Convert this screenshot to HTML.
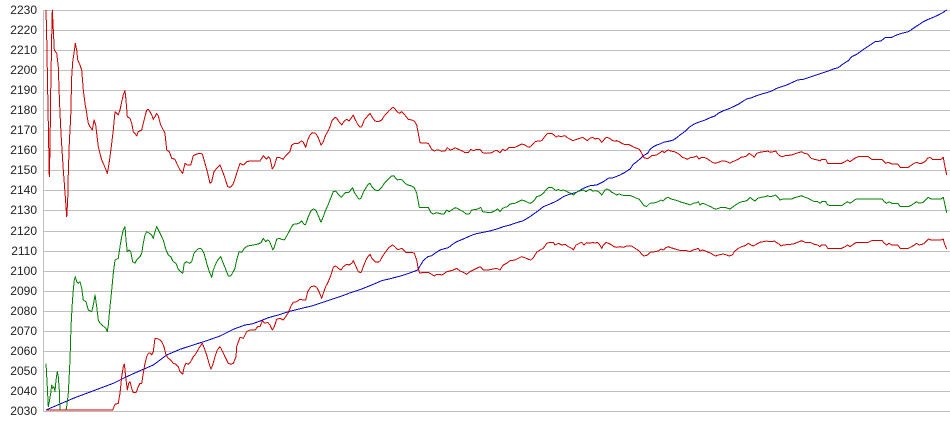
<!DOCTYPE html>
<html><head><meta charset="utf-8"><style>
html,body{margin:0;padding:0;background:#fff;}
svg{display:block;}
text{font-family:"Liberation Sans",Arial,sans-serif;font-size:12px;fill:#222;}
</style></head><body>
<svg width="950" height="435" viewBox="0 0 950 435" xmlns="http://www.w3.org/2000/svg">
<rect width="950" height="435" fill="#fff"/>
<g fill="#c0c0c0" shape-rendering="crispEdges">
<rect x="43" y="10" width="907" height="1"/>
<rect x="43" y="30" width="907" height="1"/>
<rect x="43" y="50" width="907" height="1"/>
<rect x="43" y="70" width="907" height="1"/>
<rect x="43" y="90" width="907" height="1"/>
<rect x="43" y="110" width="907" height="1"/>
<rect x="43" y="130" width="907" height="1"/>
<rect x="43" y="150" width="907" height="1"/>
<rect x="43" y="170" width="907" height="1"/>
<rect x="43" y="190" width="907" height="1"/>
<rect x="43" y="210" width="907" height="1"/>
<rect x="43" y="231" width="907" height="1"/>
<rect x="43" y="251" width="907" height="1"/>
<rect x="43" y="271" width="907" height="1"/>
<rect x="43" y="291" width="907" height="1"/>
<rect x="43" y="311" width="907" height="1"/>
<rect x="43" y="331" width="907" height="1"/>
<rect x="43" y="351" width="907" height="1"/>
<rect x="43" y="371" width="907" height="1"/>
<rect x="43" y="391" width="907" height="1"/>
<rect x="43" y="411" width="907" height="1"/>
<rect x="43" y="10" width="1" height="402"/>
</g>
<g text-anchor="end">
<text x="37" y="14">2230</text>
<text x="37" y="34">2220</text>
<text x="37" y="54">2210</text>
<text x="37" y="74">2200</text>
<text x="37" y="94">2190</text>
<text x="37" y="114">2180</text>
<text x="37" y="134">2170</text>
<text x="37" y="154">2160</text>
<text x="37" y="174">2150</text>
<text x="37" y="194">2140</text>
<text x="37" y="214">2130</text>
<text x="37" y="235">2120</text>
<text x="37" y="255">2110</text>
<text x="37" y="275">2100</text>
<text x="37" y="295">2090</text>
<text x="37" y="315">2080</text>
<text x="37" y="335">2070</text>
<text x="37" y="355">2060</text>
<text x="37" y="375">2050</text>
<text x="37" y="395">2040</text>
<text x="37" y="415">2030</text>
</g>
<g fill="none" stroke-width="1" stroke-linejoin="round" shape-rendering="crispEdges">
<!-- blue -->
<polyline stroke="#0000cc" points="46,410 60,404 73.3,398.3 86.7,393.3 100,388.3 113.3,383.3 126.7,376.7 140,370.7 153.3,365 166.7,355 180,349.3 193.3,345 206.7,340.7 220,336 233.3,329.3 245,325 251.7,324 258.3,321.7 268.3,317.7 278.3,315 288.3,311.7 301.7,308.3 311.7,306 321.7,302.7 331.7,299.3 341.7,296 351.7,292.3 361.7,289 371.7,285 381.7,280.7 391.7,278.3 401.7,275.7 411.7,272.3 417.7,270 420,266 423.3,260.7 427.7,256.7 431.7,255.7 435,253.3 440,250 443.3,249 448.3,247.7 451.7,245 456.7,241.7 463.3,239 470,236 475,234 483.3,232.3 490,231 496.7,229 503.3,226.7 510,225 516.7,222.7 523.3,220.7 528.3,217.7 533.3,214.3 538.3,210.7 543.3,206.7 550,204 556.7,201 563.3,196.7 570,194 576.7,192.3 583.3,188.3 590,185.7 596.7,185 603.3,181.7 608.3,178.3 613.3,177.7 620,175 625,172.3 630,169 633.3,164.3 636.7,161.7 640,159 643.3,155.7 647.7,153.3 650,149.3 653.3,146.7 656.7,145 660,144 663.3,142.3 666.7,141.7 670,141 673.3,140 676.7,137.7 680,135 683.3,132.7 686.7,130 690,126.7 694.3,124 698.3,122.3 703.3,120.7 706.7,119.3 710,117.7 715,116 718.3,113.3 723.3,110.7 728.3,109 733.3,106.7 738.3,104.3 743.3,101 746.7,99 751.7,97.7 756.7,95.7 761.7,94 766.7,92.7 771.7,91 776.7,88.3 781.7,86.7 786.7,85 791.7,82.7 797.7,80 803.3,79.3 808.3,77.7 813.3,76 818.3,74.3 823.3,72.7 828.3,71 833.3,69 838.3,67.7 841.7,65 845,62.7 848.3,60.7 851.7,56.7 856.7,54.3 861.7,50.7 866.7,47.3 871.7,44 875,41.7 881,41 885,37.7 891.7,37.3 896.7,35 901.7,33.3 908.3,31.7 913.3,28.3 918.3,25 923.3,21.7 928.3,19.3 933.3,17.3 938.3,15 943.3,12.3 946.7,10"/>
<!-- green -->
<polyline stroke="#008000" points="46,363.3 47.3,386.7 48.3,406.7 49.3,401.7 50.7,393.3 51.7,385 52.7,388.3 54,386.7 55,391.7 56,380 57.3,371.7 58.3,376.7 59.3,390 60,410 66,410 66.7,406.7 68.3,393.3 70,360 71,326.7 72.3,303.3 73.3,290 74.3,280 75.3,276.7 76.7,281.7 78.3,283.3 80,281.7 81.7,288.3 83.3,300 86,301.7 88.3,310 91.7,311.7 93.3,305 95,295 96.7,306.7 98.3,320 100,323.3 104,326.7 106,328.3 107.3,331.7 108.3,325 110,306.7 111.7,290 113.3,273.3 115,260 118.3,258.3 120,246.7 121.7,236.7 123.3,230 125,226.7 126,240 127.3,251.7 129,250 130.7,251.7 132.7,261.7 135,263.3 136.7,260 140,256.7 141.7,253.3 143.3,243.3 145,235 146.7,231.7 149.3,233.3 151.7,235 153.3,238.3 155,231.7 156.7,226.7 160,233.3 163.3,240 166,250 168.3,255 170.7,256.7 173.3,261.7 176,263.3 178.3,269.3 180.7,271.7 182.7,273.3 184.3,263.3 186.7,261.7 189.3,263.3 191.7,261.7 194,253.3 196.7,250 199.3,248.3 201.7,249 204,253.3 206.7,263.3 209.3,271.7 211.7,277.3 213.3,270 216,263.3 218.3,259.3 220.7,256.7 223.3,263.3 226,270 228.3,276 230.7,276 233.3,271.7 235,268.3 236.7,260 239,251.7 241.7,252.3 244.3,248.3 247.7,246 253.3,245 258.3,244 261,242.7 263.3,238.3 265.7,241.7 267.7,240 269.3,241 271.7,246.7 272.7,250 274.3,247.3 276.7,239.3 279,238.3 281.7,239.3 284.3,240 286.7,236 289,231.7 291.7,226.7 293.3,224.3 296.7,224 300,222.7 301.7,221 304,224.3 305.7,224.3 308.3,216.7 311,210.7 313.3,209 315.7,210 318.3,215.7 321,222.3 323.3,216.7 325.7,210 328.3,204.3 331,197.3 333.3,191.7 335.7,191 338.3,194.3 341,197.3 343.3,195 345.7,192.3 348.3,192.7 350.7,190 352.7,187.7 354.3,192.3 356.7,196 359,199.3 361,198.3 363.3,192.3 366,187.7 368.3,184.3 370,183.3 372.3,187.3 375,190 378.3,190.7 381.7,187.3 384.3,183.3 386.7,180.7 389,178.3 391.7,176 393.7,175.7 395.7,178.3 397.7,180 400,179.3 402.3,180 405,183.3 407.7,185 411.7,186 414.3,187.7 416.7,193.3 418.3,201.7 419.3,207.3 428.3,207.3 431,212.7 433.3,214 436.7,212.7 439,213.3 441.7,214 444,214 446.7,210 449,211.7 451.7,210 455,207.7 457.3,208.3 460,210 463.3,211.7 466,214 469.3,214 471.7,210 476.7,209.3 479.3,208.3 480.7,207.3 482.7,211.7 486.7,212.3 491.7,212.3 495,210.7 497.3,209 500,211.7 502.7,208.3 505,207.3 507.3,206.7 510,204 515,203.3 518.3,201.7 521.7,200 525,201 528.3,202.7 530.7,203.3 532.7,201.7 535,199.3 536.7,196.7 540,195.7 543.3,193.3 546,190 548.3,187.7 551.7,187.3 554,189 556,190.7 558.3,189.3 560.7,190.7 563.3,190 566,191 568.3,192.3 570.7,193.3 573.3,195 576,192.7 578.3,191 580.7,190.7 583.3,190 586,191.7 588.3,190 590.7,189.3 592.7,191 595,190.7 597.3,191 599.3,192.3 601.7,195 603.3,192.7 605,190 606.7,189 609.3,190 611.7,192.3 614,193.3 616.7,195 619.3,194 621.7,195 625,195.7 630.7,195.7 633.3,196.7 636.7,198.3 639.3,199.3 641.7,202.7 644,205.7 646.7,206.5 650,203.3 655,202.7 658.3,201.7 661,200 663.3,201 665.7,198.3 668.3,197.3 671,199 675,200 678.3,201 681.7,202.3 685,203.3 687.7,204 690,205 693.3,203.3 696.7,202.7 698.3,201.7 700,205 702.3,203.3 705,204 708.3,205.7 711,206.7 713.3,208.3 715.7,209.3 718.3,208.3 721.7,207.3 725,207.3 727.7,208.3 730,209 732.3,207.3 735.7,205 739,202.7 742.3,201.7 745.7,201 747.7,200 750,197.3 752.3,199.3 755,201 757.7,198.3 761,197.3 765,196.7 767.7,195.7 770,196.7 773.3,196 775.7,195 778.3,197.7 780,200 783.3,199 791.7,199 794.3,197.7 798.3,196.7 801.7,195.7 805,197.3 808.3,198.3 811,200 814.3,201.7 817.7,201.7 820,203.3 821.7,201.7 825.7,201.7 827.7,205 831.7,205.7 841.7,205.7 845,203.3 847.7,201.7 850,203.3 852.3,201.7 855.7,199.3 858.3,199 882.3,199 884.3,201.7 886.7,203.3 889,201.7 891.7,203.3 897.7,203.3 900.3,206.7 908.3,206.7 911.7,205 914.3,203.3 916.7,201.7 919,203.3 923.3,202.3 925.7,200 928.3,197.3 931,199 941,199 943.3,197.3 944.3,201.7 945.7,208.3 946.7,212.7"/>
<!-- upper red -->
<polyline stroke="#cc0000" points="46,10 46.7,36.7 47.7,91.7 49.3,176.7 50,148.3 50.7,91.7 51.7,36.7 52.3,10 53.3,30 54.3,50 56.7,53.3 58.3,66.7 59,88.3 60,113.3 61,133.3 62,150 63.3,170 64.3,183.3 65.3,196.7 66.7,216.7 67.7,200 68.3,173.3 69.3,143.3 70.7,116.7 71.7,76.7 72.7,61.7 74,53.3 75.3,43.3 76.7,50 77.7,60 80,65 81.7,70 83.3,90 85,103.3 86.7,113.3 88.3,123.3 90,126.7 92.3,130 94,120 95.7,125 96.7,133.3 98.3,146.7 100,153.3 101.7,160 104,165 106,170 107.3,173.3 108.3,168.3 110,156.7 111.7,143.3 113.3,130 115,111.7 116.7,113.3 118.3,115 120,110 121.7,101.7 123.3,95 125,90.7 126,100 127.3,116.7 130,118.3 131.7,123.3 133.3,131.7 135,133.3 136.7,136 138.3,131.7 141.7,130 143.3,123.3 145,116.7 146.7,110 148.3,109.3 150,111.7 151.7,115 153.3,119.3 155,116.7 156.7,113.3 158.3,116 160.7,125 165,133.3 166.7,150 169.3,151.7 171.7,158.3 175,159.3 176.7,163.3 180,170 182.7,173.3 185,163.3 187.3,165 190.7,165 193.3,155.7 196.7,154 200,153.3 202.3,154 205,163.3 207.7,173.3 210,183.3 211.7,181.7 214,171.7 216.7,168.3 220,165 222.7,171.7 225,178.3 227.7,186.7 230,187.3 232.7,185 235,179 236.7,173.3 240,163.3 243.3,165 246.7,161.7 250,161 260,161 263.3,155.7 266.7,159 268.3,156.7 270,158.3 272.3,169 274.3,166 276.7,157.7 280,157.7 283.3,159.3 285,156.7 288.3,153.3 290,151.7 291.7,145 295,143.3 298.3,143.3 301.7,141 303.3,142.3 305.7,147.3 307.7,140 310,135 312.3,132.7 315.7,133.3 318.3,137.7 321,145 323.3,141.7 325.7,135 328.3,130.7 330,126.7 332.3,120 335,117.3 336.7,118.3 339,121.7 341.7,125 344.3,121 346.7,119.3 349,121 351,118.3 353.3,115 355,119.3 357.7,124.3 360,127.3 361.7,126.7 364.3,120 367.7,116 370,113.3 372.3,117.3 375,121 378.3,121.7 381.7,120 384.3,116 386.7,113.3 389,110.7 391.7,108.3 393.3,107.3 395,109 397.3,112 399.3,113.3 401.7,111.7 403.3,113.3 405.7,116 408.3,119.3 411.7,120 414.3,121 416.7,125 418.3,133.3 420,142.7 428.3,143.3 431.7,149.3 434.3,151 436.7,150 439,150 441.7,151.3 445,151 447.3,147.7 450,150 452.7,149.3 455,147.7 458.3,149.3 461.7,150.7 465,152.7 468.3,152.7 470.7,149.3 473.3,150.7 476.7,149.3 480,149.3 482.7,152.7 486.7,153.3 491.7,152.7 495,150.7 497.3,150.7 500,152.7 502.7,149.3 505,150.7 507.3,149.3 509.3,147.3 515,147.3 518.3,145.7 521.7,144 525,145 527.3,146.7 530,147.3 532.7,144.3 535,141.7 538.3,141 541.7,140.7 544,137.7 546.7,134 549.3,133.3 551.7,133.3 554,135 556,137.3 558.3,135.7 560.7,136.7 563.3,136 565,135.7 567.3,137.7 570,139 572.7,140.7 575,140 577.3,139 580,138.3 582.7,137.3 585,139 587.3,140.7 590,138.3 592.7,137.3 595,139 597.3,138.3 599.3,139 601.7,142.3 603.3,140.7 605,138.3 606.7,137.3 609.3,138.3 611.7,140 614,141 616.7,140.7 619.3,141.7 621.7,143.3 624,144.3 628.3,144.3 631.7,146 634,147.3 636.7,148.3 639.3,149.3 641.7,153.3 644,157.7 646.7,158.5 648.3,158.3 651.7,155.7 656.7,155 660,152.7 662.3,151 664.3,152.7 666.7,150.7 668.3,150 671,151 674.3,151.7 676.7,152.7 680,155 682.3,157.3 685,158.3 687.7,159.3 690,157.7 693.3,157.3 696.7,156 699,159 701.7,157.3 705,157.7 707.7,159 710,160.7 713.3,162.7 715.7,163.3 718.3,162.3 721.7,161 725,161 728.3,162.3 730,163.3 732.3,161.7 735,160.7 738.3,159.3 741,157.3 744.3,156.7 746.7,156 749,153.3 751.7,155 754.3,157.3 756.7,153.3 760,152.3 763.3,151.7 765.7,151.7 767.7,151 770,152.3 773.3,151.7 775.7,151 777.7,154 780,156 782.3,156.7 785,155.7 791.7,155 794.3,154 798.3,152.7 801.7,151.7 804.3,153.3 807.7,154 811,158.3 814.3,159.3 817.7,160 820,161 821.7,159.3 825.7,159.3 827.7,163.3 841.7,163.3 845,161.7 847.7,160 850,161.7 852.3,160 855.7,157.7 858.3,156.7 868.3,156.7 871.7,159.3 881.7,159.3 884.3,161.7 885.7,163.3 888.3,162.3 891.7,164 897.7,164 900.3,167.3 908.3,167.3 911.7,165 914.3,163.3 916.7,162.3 919,163.3 921.7,163.3 925,161.7 927.7,158.3 930,157.3 932.3,159.3 941,159.3 943.3,157.3 944.3,163.3 945.7,170 946.7,175"/>
<!-- lower red -->
<polyline stroke="#cc0000" points="46,410 112.7,410 115,404.3 118.3,403.3 120,393.3 121.7,376.7 123.3,366.7 124.3,364 125.7,376.7 127.3,390 128.7,383.3 130,381.7 131.7,388.3 133.3,392.7 136,392.7 138.3,386.7 140,383.3 141.7,383.3 143.3,373.3 145,363.3 146.7,356.7 148.3,353.3 150,352.7 151.7,355 153.3,351.7 155,338.3 156.7,338.3 160,340 161.7,341.7 164,346.7 166,355 168.3,358.3 170.7,360 173.3,363.3 176,364.3 178.3,366.7 180,371.7 182.7,374 184.3,366.7 186,363.3 188.3,364.3 190.7,361.7 193.3,356.7 195.7,354 198.3,349.3 200,346.7 202.3,343.3 204.3,348.3 206.7,355 209,363.3 211,369.3 212.7,365 215,356.7 217.3,350 220,346.7 222.7,351.7 225,356.7 228.3,363.3 230.7,364.3 233.3,363.3 236,356.7 236.7,346.7 240,337.3 243.3,338.3 246.7,331.7 250,330 255,330 257.7,326.7 260,326.7 262.3,321 265,323.3 267.7,322.3 270,325 272.3,330 274.3,326.7 276.7,319.3 280,318.3 283.3,320 285.7,316.7 288.3,312.7 291,306 293.3,302.3 296.7,301.7 300,299.3 303.3,300 305.7,300 307.7,291.7 311,286.7 314.3,286 316.7,287.3 319,291.7 321.7,298.3 323.3,293.3 325.7,286.7 328.3,281.7 331,275 333.3,267.3 335.7,266 338.3,268.3 341,270 343.3,266.7 346.7,264.3 349,265 351.7,263.3 353.3,260.7 355.7,266 358.3,271.7 361,272.7 363.3,266.7 366.7,258.3 370,254.3 372.3,259 375,261.7 377.7,262.3 380,261 382.3,256.7 385,252.7 387.7,249 390,246.7 392.3,245 395,246.7 397.3,249.3 399.3,249.3 401.7,248.3 403.3,250 405.7,252.3 411.7,252.3 414.3,253.3 416.7,260 418.3,269 420,273.3 423.3,272.3 428.3,272.3 431,274 434.3,276 436.7,274.3 439,274.3 441.7,275 443.3,274.3 446.7,271.7 450,271 453.3,270 456.7,268.3 460,271 463.3,272.3 466.7,274.3 470,271.7 473.3,270 476.7,268.3 480,266.7 483.3,270 488.3,270 493.3,269 496.7,268.3 500,270 503.3,265 506.7,263.3 510,260.7 515,260 518.3,258.3 521.7,256.7 525,257.7 528.3,259.3 530.7,260 533.3,257.7 536.7,252.3 540,250 543.3,248.3 546.7,243.3 550,242.3 553.3,242.3 555,245 558.3,243.3 561.7,245 565,244.3 568.3,246.7 571.7,248.3 573.3,250 576,245 579.3,243.3 581.7,242.3 584,245 586.7,242.7 590,243.3 592.7,242.3 595,243.3 597.3,242.3 599.3,244.3 601.7,248.3 603.3,245 606,242.3 608.3,243.3 611.7,245 614,246.7 616.7,247.3 620,246.7 623.3,247.3 626.7,246 631.7,246 635,248.3 639.3,251 641.7,254.3 644,256 647.7,255 650,252.3 655,251.7 658.3,251 661,249 663.3,250 665.7,247.7 668.3,246.7 671,247.7 675,249 678.3,250 681.7,250.7 686.7,250.7 690,251.7 693.3,250 696.7,249 698.3,248.3 700,251 702.3,250 705,250.7 708.3,252.3 711,253.3 713.3,255 715.7,256 718.3,255 723.3,254 726.7,255 729,256 732.3,255 734.3,251.7 738.3,248.3 741.7,246.7 745,245.7 748.3,243.3 751,245 753.3,246 756.7,244 760,242.3 763.3,241.7 766.7,241 769,241.7 771.7,241.7 774.3,241 776.7,242.7 779,244 781,246 783.3,245 793.3,244 796.7,242.7 801.7,240.7 805,242.3 810,242.3 814.3,244.3 817.7,245 820,246.7 821.7,245 825.7,245 827.7,248.3 841.7,248.3 845,246.7 847.7,245 850,246.7 852.3,245 855.7,242.7 858.3,242.3 868.3,242.3 871.7,240.7 882.3,240.7 884.3,243.3 886.7,245 889,243.3 891.7,245 897.7,245 900.3,248.3 908.3,248.3 911.7,246.7 914.3,245 916.7,243.3 919,245 923.3,244 925.7,241.7 928.3,239 931,240 941,240 943.3,239 944.3,243.3 946.7,249"/>
</g>
</svg>
</body></html>
